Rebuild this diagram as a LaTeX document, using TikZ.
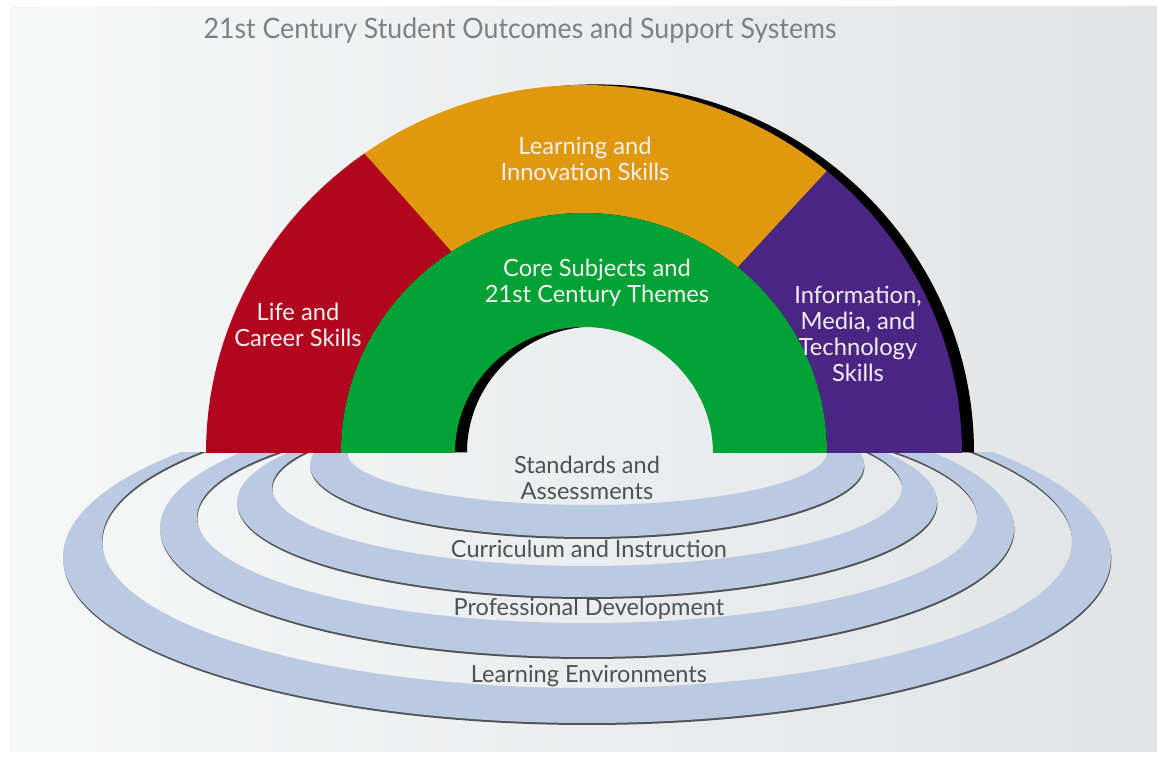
\documentclass[tikz,border=0pt]{standalone}
\usepackage{fontspec}
\setmainfont{Lato}
\newfontfamily\titlefont[FakeStretch=0.95]{Lato}
\usetikzlibrary{calc}

\definecolor{bgleft}{HTML}{F6F7F7}
\definecolor{bgright}{HTML}{E2E3E5}
\definecolor{ringblue}{HTML}{B9CAE2}
\definecolor{ringdark}{HTML}{525356}
\definecolor{lifered}{HTML}{B1061E}
\definecolor{learnorange}{HTML}{E0980C}
\definecolor{infopurple}{HTML}{4B2584}
\definecolor{coregreen}{HTML}{00A135}
\definecolor{titlegray}{HTML}{7E8085}
\definecolor{labelgray}{HTML}{505153}
\definecolor{archtext}{HTML}{F4F0F2}

\tikzset{
  ringband/.style={fill=ringblue, even odd rule},
  ringshade/.style={fill=ringdark, even odd rule},
  archlabel/.style={text=archtext, align=center, font=\fontsize{13.5}{14.8}\selectfont, inner sep=0pt},
  ringlabel/.style={text=labelgray, align=center, font=\fontsize{13.4}{14.8}\selectfont, inner sep=0pt},
  titlelabel/.style={text=titlegray, font=\titlefont\fontsize{16}{18}\selectfont, inner sep=0pt}
}

\begin{document}
\begin{tikzpicture}[x=0.02cm, y=0.02cm]
\useasboundingbox (0,0) rectangle (1157,761);
\fill[white] (0,0) rectangle (1157,761);
\shade[left color=bgleft, right color=bgright] (10,9) rectangle (1157,754);

% support-system rings, cut off at the base line of the arch
\begin{scope}
  \clip (0,0) rectangle (1157,308.5);
  \foreach \ocy/\orx/\ory/\icy/\irx/\iry in
     {204/524/166/220/485/147, 233/427/129/244/390/106,
      259/350/95/273.5/315/78.5, 296/277/72/309/240/53} {
    \fill[ringshade, shift={(0.4,-2)}]
      (587,\ocy) ellipse[x radius=\orx, y radius=\ory]
      (587,\icy) ellipse[x radius=\irx, y radius=\iry];
    \fill[ringband]
      (587,\ocy) ellipse[x radius=\orx, y radius=\ory]
      (587,\icy) ellipse[x radius=\irx, y radius=\iry];
  }
\end{scope}

% arch centre and the centre of its drop shadow
\coordinate (C) at (584,308);
\coordinate (CS) at (596,308.6);

% arch: drop shadow
\fill[black]
  ($(CS)+(180:378 and 368)$) arc[start angle=180, end angle=0, x radius=378, y radius=368]
  -- ($(CS)+(0:129 and 126)$) arc[start angle=0, end angle=180, x radius=129, y radius=126]
  -- cycle;

% arch: outer skill bands
\fill[lifered]
  ($(C)+(180:378 and 368)$) arc[start angle=180, end angle=125.5, x radius=378, y radius=368]
  -- ($(C)+(123:243 and 240)$) arc[start angle=123, end angle=180, x radius=243, y radius=240]
  -- cycle;
\fill[learnorange]
  ($(C)+(125.5:378 and 368)$) arc[start angle=125.5, end angle=50, x radius=378, y radius=368]
  -- ($(C)+(50.7:243 and 240)$) arc[start angle=50.7, end angle=123, x radius=243, y radius=240]
  -- cycle;
\fill[infopurple]
  ($(C)+(50:378 and 368)$) arc[start angle=50, end angle=0, x radius=378, y radius=368]
  -- ($(C)+(0:243 and 240)$) arc[start angle=0, end angle=50.7, x radius=243, y radius=240]
  -- cycle;
% arch: core band
\fill[coregreen]
  ($(C)+(180:243 and 240)$) arc[start angle=180, end angle=0, x radius=243, y radius=240]
  -- ($(C)+(0:129 and 126)$) arc[start angle=0, end angle=180, x radius=129, y radius=126]
  -- cycle;

% labels
\node[titlelabel] (title) at (520,730) {21st Century Student Outcomes and Support Systems};

\node[archlabel] (learning) at (585,602) {Learning and\\Innovation Skills};
\node[archlabel] (core) at (597,478) {Core Subjects and\\21st Century Themes};
\node[archlabel] (life) at (298,436) {Life and\\Career Skills};
\node[archlabel] (info) at (858,427) {Information,\\Media, and\\Technology\\Skills};

\node[ringlabel] (standards) at (587,283) {Standards and\\Assessments};
\node[ringlabel] (curriculum) at (589,212) {Curriculum and Instruction};
\node[ringlabel] (profdev) at (589,152) {Professional Development};
\node[ringlabel] (environments) at (589,85) {Learning Environments};
\end{tikzpicture}
\end{document}
